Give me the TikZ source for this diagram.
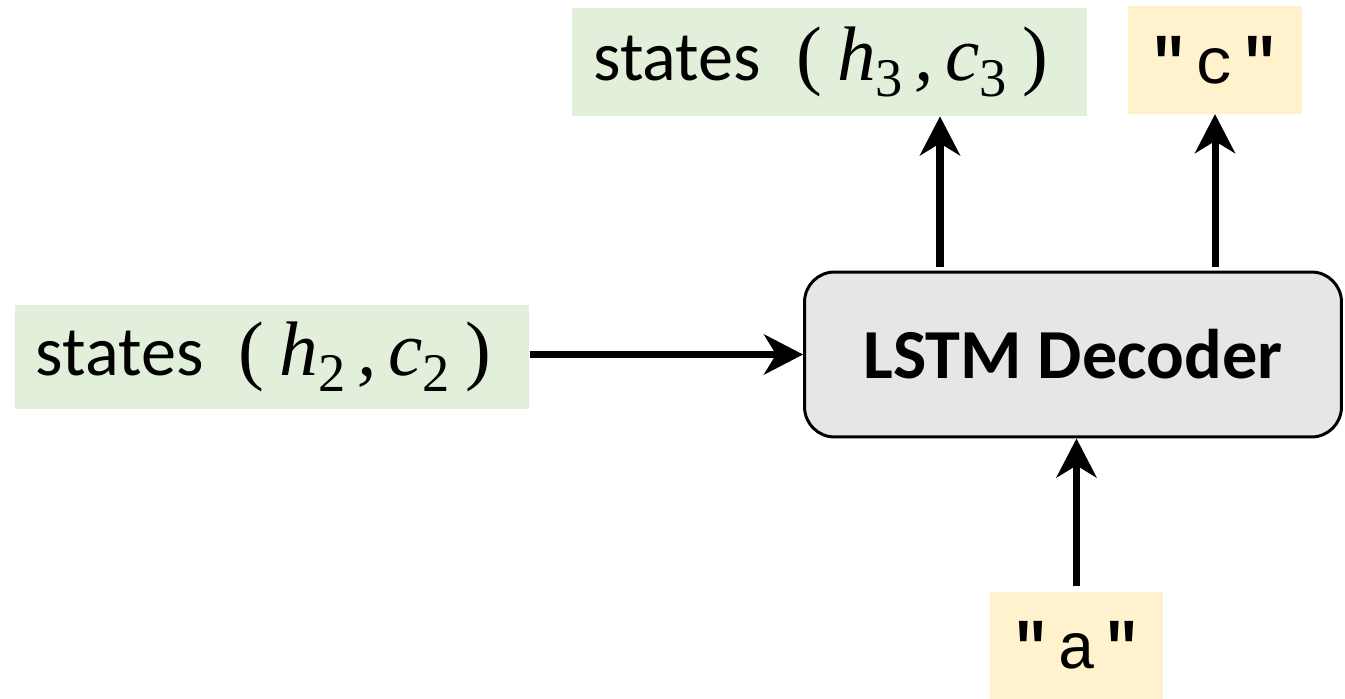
\documentclass[tikz,border=0pt]{standalone}
\usepackage{fontspec}
\setmainfont{Carlito}
\setmonofont{Liberation Mono}
\newfontfamily\symserif{Liberation Serif}
\usetikzlibrary{positioning,arrows.meta}

\definecolor{stgreen}{HTML}{E2EFDA}
\definecolor{chyellow}{HTML}{FFF2CC}
\definecolor{decgray}{HTML}{E6E6E6}

% states (h_i, c_i) label
\newcommand{\hcstate}[1]{states\hspace{0.5em}{\symserif\fontsize{44}{44}\selectfont(\hspace{0.2em}\textit{h}\raisebox{-0.2em}{\fontsize{31}{31}\selectfont #1}\hspace{0.15em}\textit{,}\hspace{0.15em}\textit{c}\raisebox{-0.2em}{\fontsize{31}{31}\selectfont #1}\hspace{0.2em})}}
% quoted character
\newcommand{\qchar}[1]{\texttt{\textbf{"}\hspace{0.1em}#1\hspace{0.1em}\textbf{"}}}

\begin{document}
\begin{tikzpicture}[x=0.02cm,y=-0.02cm]
  \tikzset{
  stbox/.style={
    rectangle,
    fill=stgreen,
    inner xsep=0.42cm,
    text width=9.45cm,
    align=left,
    font=\fontsize{40}{44}\selectfont
  },
  chbox/.style={
    rectangle,
    fill=chyellow,
    minimum width=3.48cm,
    minimum height=2.15cm,
    font=\fontsize{37}{40}\selectfont
  },
  decbox/.style={
    rectangle,
    draw=black,
    line width=1.7pt,
    fill=decgray,
    rounded corners=0.6cm,
    minimum width=10.74cm,
    minimum height=3.3cm,
    font=\bfseries\fontsize{40}{44}\selectfont
  },
  arr/.style={
    line width=4pt,
    -{Stealth[length=0.78cm,width=0.8cm,inset=0.24cm]}
  }
}
\useasboundingbox (0,0) rectangle (1345,699);

\node[stbox, minimum height=2.08cm] at (272,357)
  (state2) {\hcstate{2}};
\node[stbox, minimum height=2.16cm] at (829.5,62)
  (state3) {\hcstate{3}};
\node[chbox] at (1214.5,60)
  (outc) {\qchar{c}};
\node[chbox] at (1076.5,645.5)
  (ina) {\qchar{a}};
\node[decbox] at (1073,354.5)
  (decoder) {LSTM Decoder};

\coordinate (stout) at (940,267);
\coordinate (chout) at (1215,267);

  \draw[arr] (decoder.west -| state2.east) -- (decoder.west);
  \draw[arr] (stout) -- (stout |- state3.south);
  \draw[arr] (chout) -- (chout |- outc.south);
  \draw[arr, shorten <=0.1cm] (ina.north) -- (ina.north |- decoder.south);

\end{tikzpicture}
\end{document}
